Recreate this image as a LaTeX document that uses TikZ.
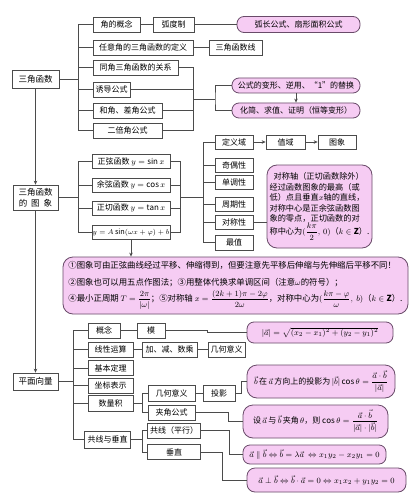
\documentclass[tikz,border=0pt]{standalone}
\usepackage{amsmath}
\usepackage{fontspec}
\setmainfont{Noto Sans CJK SC}
\usetikzlibrary{arrows.meta}
\definecolor{ln}{RGB}{75,75,75}
\definecolor{pk}{RGB}{246,204,243}
\definecolor{pkd}{RGB}{105,75,105}
\tikzset{
  bx/.style={draw=ln, fill=white, line width=0.7pt, inner sep=0pt, minimum height=15pt, font=\fontsize{8}{9}\selectfont},
  pb/.style={draw=pkd, fill=pk, line width=0.8pt, rounded corners=7pt, inner sep=0pt, minimum height=15pt, font=\fontsize{8}{9}\selectfont},
  cn/.style={draw=ln, line width=0.7pt},
  ar/.style={cn, -{Stealth[length=4pt,width=3.5pt]}},
}
\begin{document}
\begin{tikzpicture}[x=1pt,y=-1pt]
\fill[white] (0,0) rectangle (413,500);
\useasboundingbox (0,0) rectangle (413,500);

% ---------- top: 三角函数 ----------
\node[bx, minimum width=47pt, minimum height=18pt, font=\fontsize{8.5}{9}\selectfont] (t0) at (35.5,79) {三角函数};
\node[bx, minimum width=47pt] (a1) at (116.5,24.5) {角的概念};
\node[bx, minimum width=41pt] (a2) at (173.5,24.5) {弧度制};
\node[pb, minimum width=123pt, minimum height=16pt] (a3) at (298.5,24.5) {弧长公式、扇形面积公式};
\node[bx, minimum width=100pt] (b1) at (143,47.5) {任意角的三角函数的定义};
\node[bx, minimum width=53pt] (b2) at (235.5,47.5) {三角函数线};
\node[bx, minimum width=85pt] (c1) at (135.5,67.5) {同角三角函数的关系};
\node[bx, minimum width=37pt] (c2) at (111.5,89.5) {诱导公式};
\node[bx, minimum width=69pt] (c3) at (127.5,110.5) {和角、差角公式};
\node[bx, minimum width=69pt] (c4) at (127.5,130.5) {二倍角公式};
\node[pb, minimum width=128pt] (d1) at (296,85.5) {公式的变形、逆用、“1”的替换};
\node[pb, minimum width=128pt] (d2) at (296,110.5) {化简、求值、证明（恒等变形）};

\coordinate (bA) at (78,79);
\coordinate (bB) at (193,99);
\coordinate (bC) at (215,99);
\draw[cn] (t0.east) -- (bA);
\draw[cn] (a1.west) -- (a1.west -| bA) -- (c4.west -| bA) -- (c4.west);
\foreach \n in {b1,c1,c2,c3} \draw[cn] (\n.west) -- (\n.west -| bA);
\draw[cn] (a1) -- (a2);
\draw[cn] (a2) -- (a3);
\draw[cn] (b1) -- (b2);
\draw[cn] (c1.east) -- (c1.east -| bB) -- (c4.east -| bB) -- (c4.east);
\foreach \n in {c2,c3} \draw[cn] (\n.east) -- (\n.east -| bB);
\draw[cn] (bB) -- (bC);
\draw[cn] (d1.west) -| (bC) |- (d2.west);
\draw[ar] (d1.south) -- (d2.north);

% ---------- middle: 三角函数的图象 ----------
\node[bx, minimum width=45pt, minimum height=25pt, align=center, font=\fontsize{8.5}{11}\selectfont] (m0) at (35.5,197.5) {三角函数\\的\hspace{0.45em}图\hspace{0.45em}象};
\node[bx, minimum width=78pt, minimum height=14pt] (f1) at (131,161.5) {正弦函数 $y=\sin x$};
\node[bx, minimum width=78pt, minimum height=14pt] (f2) at (131,185) {余弦函数 $y=\cos x$};
\node[bx, minimum width=78pt, minimum height=14pt] (f3) at (131,208) {正切函数 $y=\tan x$};
\node[bx, minimum width=78pt, minimum height=14pt, font=\fontsize{7.3}{8}\selectfont] (f4) at (131,232.5) {$y=A\sin(\omega x+\varphi)+b$};

\node[bx, minimum width=38pt, minimum height=14pt] (p1) at (234,142) {定义域};
\node[bx, minimum width=39pt, minimum height=14pt] (p2) at (285.5,142) {值域};
\node[bx, minimum width=38pt, minimum height=14pt] (p3) at (337,142) {图象};
\node[bx, minimum width=38pt, minimum height=14pt] (q1) at (234,165) {奇偶性};
\node[bx, minimum width=38pt, minimum height=14pt] (q2) at (234,182.5) {单调性};
\node[bx, minimum width=38pt, minimum height=14pt] (q3) at (234,204) {周期性};
\node[bx, minimum width=38pt, minimum height=14pt] (q4) at (234,222.5) {对称性};
\node[bx, minimum width=38pt, minimum height=15pt] (q5) at (234,242.5) {最值};

\node[pb, rounded corners=10pt, minimum width=105pt, minimum height=83pt, align=left, font=\fontsize{8.2}{10.5}\selectfont] (sym) at (319.5,206.5)
 {\hspace{0.5em}对称轴（正切函数除外）\\
  经过函数图象的最高（或\\
  低）点且垂直$x$轴的直线，\\
  对称中心是正余弦函数图\\
  象的零点，正切函数的对\\
  称中心为$(\dfrac{k\pi}{2},\,0)$（$k\in\mathbf{Z}$）.};

\node[pb, rounded corners=10pt, minimum width=345pt, minimum height=57pt, align=left, font=\fontsize{8.4}{16.5}\selectfont] (big) at (235.5,285.5)
 {①图象可由正弦曲线经过平移、伸缩得到，但要注意先平移后伸缩与先伸缩后平移不同！\\
  ②图象也可以用五点作图法；③用整体代换求单调区间（注意$\omega$的符号）；\\
  ④最小正周期 $T=\dfrac{2\pi}{|\omega|}$；⑤对称轴 $x=\dfrac{(2k+1)\pi-2\varphi}{2\omega}$，对称中心为$(\dfrac{k\pi-\varphi}{\omega},\ b)$（$k\in\mathbf{Z}$）.};

\coordinate (bD) at (78,197.5);
\coordinate (bE) at (180,197);
\coordinate (bF) at (203,197);
\draw[cn] (m0.east) -- (bD);
\draw[cn] (f1.west) -- (f1.west -| bD) -- (f4.west -| bD) -- (f4.west);
\foreach \n in {f2,f3} \draw[cn] (\n.west) -- (\n.west -| bD);
\draw[cn] (f1.east) -- (f1.east -| bE) -- (f4.east -| bE) -- (f4.east);
\foreach \n in {f2,f3} \draw[cn] (\n.east) -- (\n.east -| bE);
\draw[cn] (bE) -- (bF);
\draw[cn] (p1.west) -- (p1.west -| bF) -- (q5.west -| bF) -- (q5.west);
\foreach \n in {q1,q2,q3,q4} \draw[cn] (\n.west) -- (\n.west -| bF);
\draw[ar] (p1) -- (p2);
\draw[ar] (p2) -- (p3);
\draw[cn] (q4.east) -- (q4.east -| sym.west);
\draw[ar] (f4.south) -- (f4.south |- big.north);

% ---------- bottom: 平面向量 ----------
\node[bx, minimum width=45pt, minimum height=17pt, font=\fontsize{8.5}{9}\selectfont] (v0) at (35.5,381.5) {平面向量};
\node[bx, minimum width=32pt] (g1) at (104,330.5) {概念};
\node[bx, minimum width=28pt] (g2) at (151,330.5) {模};
\node[bx, minimum width=45pt] (g3) at (110.5,349.5) {线性运算};
\node[bx, minimum width=55pt] (g3b) at (169.5,349.5) {加、减、数乘};
\node[bx, minimum width=37pt] (g3c) at (226.5,349.5) {几何意义};
\node[bx, minimum width=45pt] (g4) at (110.5,368) {基本定理};
\node[bx, minimum width=45pt] (g5) at (110.5,385.5) {坐标表示};
\node[bx, minimum width=45pt, minimum height=16pt] (g6) at (110.5,403.5) {数量积};
\node[bx, minimum width=46pt, minimum height=17pt] (g7) at (107.5,439.5) {共线与垂直};
\node[bx, minimum width=47pt, minimum height=16pt] (h1) at (171.5,393.5) {几何意义};
\node[bx, minimum width=32pt, minimum height=16pt] (h2) at (219,393.5) {投影};
\node[bx, minimum width=47pt] (h3) at (171.5,412.5) {夹角公式};
\node[bx, minimum width=53pt] (h4) at (174,430.5) {共线（平行）};
\node[bx, minimum width=53pt] (h5) at (174,452) {垂直};

\node[pb, minimum width=146pt, minimum height=21pt] (r1) at (320,332.5) {$|\vec{a}|=\sqrt{(x_2-x_1)^2+(y_2-y_1)^2}$};
\node[pb, rounded corners=10pt, minimum width=148pt, minimum height=33pt] (r2) at (321,381.5) {$\vec{b}\,$在$\,\vec{a}\,$方向上的投影为$\,|\vec{b}|\cos\theta=\dfrac{\vec{a}\cdot\vec{b}}{|\vec{a}|}$};
\node[pb, rounded corners=10pt, minimum width=145pt, minimum height=33pt] (r3) at (315.5,421.5) {设$\,\vec{a}\,$与$\,\vec{b}\,$夹角$\,\theta$，则 $\cos\theta=\dfrac{\vec{a}\cdot\vec{b}}{|\vec{a}|\cdot|\vec{b}|}$};
\node[pb, minimum width=143pt, minimum height=19pt] (r4) at (314.5,454.5) {$\vec{a}\parallel\vec{b}\Leftrightarrow\vec{b}=\lambda\vec{a}\ \Leftrightarrow x_1y_2-x_2y_1=0$};
\node[pb, rounded corners=8pt, minimum width=159pt, minimum height=24pt] (r5) at (326.5,480) {$\vec{a}\perp\vec{b}\Leftrightarrow\vec{b}\cdot\vec{a}=0\Leftrightarrow x_1x_2+y_1y_2=0$};

% trunk
\draw[ar] (t0.south) -- (m0.north);
\draw[ar] (m0.south) -- (v0.north);

\coordinate (bG) at (73,381.5);
\coordinate (k1) at (207,330.5);
\coordinate (bH) at (142,403.5);
\coordinate (k2) at (241,381.5);
\coordinate (k3) at (228,412.5);
\coordinate (bI) at (142,439.5);
\coordinate (k4) at (229,430.5);
\coordinate (k5) at (222,452);
\draw[cn] (v0.east) -- (bG);
\draw[cn] (g1.west) -- (g1.west -| bG) -- (g7.west -| bG) -- (g7.west);
\foreach \n in {g3,g4,g5,g6} \draw[cn] (\n.west) -- (\n.west -| bG);
\draw[cn] (g1) -- (g2);
\draw[cn] (g2.east) -- (k1) |- (r1.west);
\draw[cn] (g3) -- (g3b);
\draw[cn] (g3b) -- (g3c);
\draw[cn] (g6.east) -- (bH);
\draw[cn] (h1.west) -- (h1.west -| bH) -- (h3.west -| bH) -- (h3.west);
\draw[cn] (h1) -- (h2);
\draw[cn] (h2.east) -| (k2) -- (r2.west);
\draw[cn] (h3.east) -- (k3) |- (r3.west);
\draw[cn] (g7.east) -- (bI);
\draw[cn] (h4.west) -- (h4.west -| bI) -- (h5.west -| bI) -- (h5.west);
\draw[cn] (h4.east) -- (k4) |- (r4.west);
\draw[cn] (h5.east) -- (k5) |- (r5.west);
\end{tikzpicture}
\end{document}
